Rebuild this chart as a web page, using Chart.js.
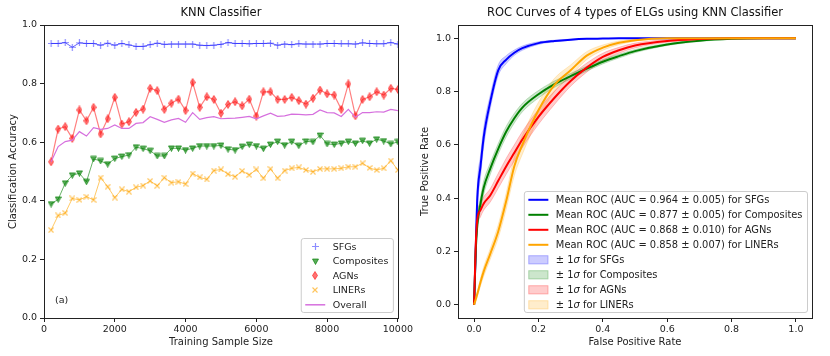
<!DOCTYPE html>
<html>
<head>
<meta charset="utf-8">
<script src="https://cdn.jsdelivr.net/npm/chart.js@4.4.0/dist/chart.umd.min.js"></script>
<style>
  html, body { margin: 0; padding: 0; background: #fff; }
  #wrap { position: relative; width: 830px; height: 356px; }
  .panel { position: absolute; top: 0; width: 415px; height: 356px; }
  #left { left: 0; }
  #right { left: 415px; }
</style>
</head>
<body>
<div id="wrap">
  <div class="panel" id="left"><canvas id="knnChart"></canvas></div>
  <div class="panel" id="right"><canvas id="rocChart"></canvas></div>
</div>
<script>
// ---- data: accuracy vs training sample size (left panel)
const sampleSizes = [200, 400, 600, 800, 1000, 1200, 1400, 1600, 1800, 2000,
  2200, 2400, 2600, 2800, 3000, 3200, 3400, 3600, 3800, 4000,
  4200, 4400, 4600, 4800, 5000, 5200, 5400, 5600, 5800, 6000,
  6200, 6400, 6600, 6800, 7000, 7200, 7400, 7600, 7800, 8000,
  8200, 8400, 8600, 8800, 9000, 9200, 9400, 9600, 9800, 10000];
const sfgAcc = [0.937, 0.937, 0.940, 0.924, 0.939, 0.937, 0.937, 0.931, 0.938, 0.931,
  0.937, 0.932, 0.927, 0.927, 0.933, 0.938, 0.934, 0.935, 0.935, 0.935,
  0.935, 0.931, 0.930, 0.931, 0.934, 0.940, 0.937, 0.937, 0.936, 0.937,
  0.937, 0.938, 0.931, 0.935, 0.933, 0.936, 0.935, 0.935, 0.935, 0.937,
  0.937, 0.936, 0.936, 0.935, 0.939, 0.937, 0.936, 0.936, 0.940, 0.935];
const compositeAcc = [0.389, 0.405, 0.460, 0.487, 0.494, 0.465, 0.543, 0.536, 0.525, 0.544,
  0.551, 0.556, 0.583, 0.578, 0.571, 0.553, 0.553, 0.579, 0.579, 0.573,
  0.579, 0.587, 0.587, 0.587, 0.589, 0.576, 0.573, 0.585, 0.592, 0.587,
  0.578, 0.592, 0.602, 0.590, 0.602, 0.588, 0.603, 0.601, 0.623, 0.594,
  0.592, 0.596, 0.602, 0.596, 0.605, 0.596, 0.610, 0.604, 0.594, 0.601];
const agnAcc = [0.533, 0.645, 0.653, 0.613, 0.710, 0.673, 0.719, 0.628, 0.680, 0.753,
  0.662, 0.670, 0.702, 0.713, 0.784, 0.776, 0.712, 0.733, 0.747, 0.708,
  0.804, 0.719, 0.755, 0.746, 0.699, 0.729, 0.738, 0.724, 0.747, 0.689,
  0.772, 0.772, 0.746, 0.746, 0.753, 0.742, 0.730, 0.750, 0.778, 0.765,
  0.761, 0.712, 0.799, 0.690, 0.746, 0.755, 0.772, 0.761, 0.784, 0.780];
const linerAcc = [0.300, 0.350, 0.358, 0.408, 0.403, 0.414, 0.403, 0.479, 0.448, 0.411,
  0.439, 0.431, 0.446, 0.452, 0.468, 0.451, 0.479, 0.462, 0.465, 0.457,
  0.493, 0.480, 0.473, 0.503, 0.507, 0.491, 0.482, 0.502, 0.488, 0.507,
  0.477, 0.509, 0.477, 0.503, 0.511, 0.514, 0.505, 0.499, 0.509, 0.509,
  0.509, 0.511, 0.516, 0.516, 0.528, 0.512, 0.505, 0.511, 0.537, 0.505];
const overallAcc = [0.533, 0.585, 0.602, 0.607, 0.636, 0.621, 0.650, 0.644, 0.647, 0.659,
  0.647, 0.647, 0.664, 0.667, 0.687, 0.678, 0.668, 0.676, 0.681, 0.668,
  0.701, 0.678, 0.684, 0.687, 0.680, 0.681, 0.682, 0.685, 0.688, 0.680,
  0.690, 0.699, 0.688, 0.690, 0.696, 0.695, 0.693, 0.695, 0.710, 0.701,
  0.700, 0.688, 0.712, 0.685, 0.701, 0.701, 0.704, 0.703, 0.712, 0.708];

// ---- data: mean ROC curves (right panel), tpr on a shared fpr grid
const rocFpr = [0, 0.005, 0.01, 0.02, 0.03, 0.05, 0.075, 0.1, 0.125, 0.15, 0.2,
  0.25, 0.3, 0.35, 0.4, 0.45, 0.5, 0.6, 0.7, 0.8, 0.9, 1.0];
const sfgTpr = [0, 0.20, 0.40, 0.52, 0.63, 0.76, 0.88, 0.92, 0.946, 0.963, 0.982,
  0.990, 0.995, 0.998, 0.999, 1, 1, 1, 1, 1, 1, 1];
const compositeTpr = [0, 0.20, 0.30, 0.38, 0.44, 0.51, 0.585, 0.65, 0.70, 0.74, 0.79,
  0.828, 0.858, 0.886, 0.912, 0.933, 0.952, 0.977, 0.991, 0.998, 1, 1];
const agnTpr = [0, 0.22, 0.32, 0.355, 0.38, 0.41, 0.465, 0.52, 0.57, 0.62, 0.705,
  0.777, 0.84, 0.89, 0.93, 0.955, 0.973, 0.99, 0.997, 1, 1, 1];
const linerTpr = [0, 0.02, 0.04, 0.085, 0.125, 0.19, 0.275, 0.39, 0.52, 0.60, 0.73,
  0.825, 0.88, 0.935, 0.965, 0.983, 0.993, 1, 1, 1, 1, 1];
// spread of the fold curves (1 sigma)
const sfgSigma = [0, 0.06, 0.05, 0.04, 0.035, 0.025, 0.02, 0.015, 0.01, 0.008, 0.005,
  0.003, 0.002, 0.001, 0, 0, 0, 0, 0, 0, 0, 0];
const compositeSigma = [0, 0.04, 0.03, 0.025, 0.025, 0.022, 0.02, 0.02, 0.018, 0.016, 0.014,
  0.012, 0.01, 0.009, 0.008, 0.007, 0.006, 0.004, 0.003, 0.001, 0, 0];
const agnSigma = [0, 0.04, 0.03, 0.025, 0.025, 0.025, 0.028, 0.03, 0.03, 0.03, 0.028,
  0.025, 0.02, 0.017, 0.014, 0.011, 0.009, 0.005, 0.002, 0, 0, 0];
const linerSigma = [0, 0.01, 0.01, 0.015, 0.018, 0.02, 0.025, 0.03, 0.035, 0.035, 0.03,
  0.025, 0.02, 0.015, 0.01, 0.007, 0.004, 0, 0, 0, 0, 0];

const rocLabels = [
  'Mean ROC (AUC = 0.964 \u00b1 0.005) for SFGs',
  'Mean ROC (AUC = 0.877 \u00b1 0.005) for Composites',
  'Mean ROC (AUC = 0.868 \u00b1 0.010) for AGNs',
  'Mean ROC (AUC = 0.858 \u00b1 0.007) for LINERs'
];
const classNames = ['SFGs', 'Composites', 'AGNs', 'LINERs'];
const accTicks = [0, 0.2, 0.4, 0.6, 0.8, 1.0];
const sizeTicks = [0, 2000, 4000, 6000, 8000, 10000];
const rateTicks = [0, 0.2, 0.4, 0.6, 0.8, 1.0];

Chart.defaults.font.family = '"DejaVu Sans", sans-serif';
Chart.defaults.color = '#222';

const FONT_FAMILY = '"DejaVu Sans", sans-serif';

// small canvases used as matplotlib-like markers
function makeMarker(w, h, draw) {
  const c = document.createElement('canvas');
  c.width = w;
  c.height = h;
  draw(c.getContext('2d'), w, h);
  return c;
}
const plusMarker = makeMarker(7, 7, (g, w, h) => {
  g.strokeStyle = 'rgba(0,0,255,0.45)';
  g.lineWidth = 1.2;
  g.beginPath();
  g.moveTo(w / 2, 0); g.lineTo(w / 2, h);
  g.moveTo(0, h / 2); g.lineTo(w, h / 2);
  g.stroke();
});
const triDownMarker = makeMarker(7, 7, (g) => {
  g.fillStyle = 'rgba(0,128,0,0.65)';
  g.strokeStyle = 'rgba(0,128,0,0.65)';
  g.beginPath();
  g.moveTo(0.5, 1); g.lineTo(6.5, 1); g.lineTo(3.5, 6.5); g.closePath();
  g.fill(); g.stroke();
});
const thinDiamondMarker = makeMarker(6, 9, (g) => {
  g.fillStyle = 'rgba(255,0,0,0.55)';
  g.strokeStyle = 'rgba(255,0,0,0.55)';
  g.beginPath();
  g.moveTo(3, 0.5); g.lineTo(5.5, 4.5); g.lineTo(3, 8.5); g.lineTo(0.5, 4.5); g.closePath();
  g.fill(); g.stroke();
});
const xMarker = makeMarker(6, 6, (g) => {
  g.strokeStyle = 'rgba(255,165,0,0.65)';
  g.lineWidth = 1.1;
  g.beginPath();
  g.moveTo(0.5, 0.5); g.lineTo(5.5, 5.5);
  g.moveTo(5.5, 0.5); g.lineTo(0.5, 5.5);
  g.stroke();
});

// draw the axes frame on all four sides
const framePlugin = {
  id: 'frame',
  afterDraw(chart) {
    const { ctx, chartArea: a } = chart;
    ctx.save();
    ctx.strokeStyle = '#222';
    ctx.lineWidth = 1;
    ctx.strokeRect(Math.round(a.left) + 0.5, Math.round(a.top) + 0.5,
      Math.round(a.right - a.left), Math.round(a.bottom - a.top));
    ctx.restore();
  }
};

// title centred over the plot area, like matplotlib's ax.set_title
const axesTitlePlugin = {
  id: 'axesTitle',
  afterDraw(chart, args, opts) {
    if (!opts.text) return;
    const { ctx, chartArea } = chart;
    ctx.save();
    ctx.font = opts.size + 'px ' + FONT_FAMILY;
    ctx.fillStyle = '#111';
    ctx.textAlign = 'center';
    ctx.textBaseline = 'middle';
    ctx.fillText(opts.text, (chartArea.left + chartArea.right) / 2, 13);
    ctx.restore();
  }
};

// legend drawn inside the lower right corner of the plot
function labelParts(label) {
  return Array.isArray(label) ? label : [[label, false]];
}
function setFont(ctx, italic, size) {
  ctx.font = (italic ? 'italic ' : '') + size + 'px ' + FONT_FAMILY;
}
const insetLegendPlugin = {
  id: 'insetLegend',
  afterDraw(chart, args, opts) {
    const items = opts.items;
    if (!items || !items.length) return;
    const { ctx, chartArea } = chart;
    const size = opts.fontSize;
    ctx.save();
    const widths = items.map(it => labelParts(it.label).reduce((s, [t, it2]) => {
      setFont(ctx, it2, size);
      return s + ctx.measureText(t).width;
    }, 0));
    const w = 31.5 + Math.max(...widths) + 5;
    const h = 16 + (items.length - 1) * opts.rowHeight;
    const x0 = chartArea.right - 4.5 - w;
    const y0 = chartArea.bottom - 5.5 - h;

    ctx.beginPath();
    ctx.roundRect(x0, y0, w, h, 2.5);
    ctx.fillStyle = 'rgba(255,255,255,0.85)';
    ctx.fill();
    ctx.strokeStyle = '#cccccc';
    ctx.lineWidth = 1;
    ctx.stroke();

    items.forEach((it, i) => {
      const cy = y0 + 8.3 + i * opts.rowHeight;
      const hx = x0 + 4;
      if (it.marker) {
        const m = it.marker;
        ctx.drawImage(m, Math.round(hx + 10 - m.width / 2), Math.round(cy - m.height / 2));
      } else if (it.line) {
        ctx.strokeStyle = it.line;
        ctx.lineWidth = it.lineWidth || 1.5;
        ctx.beginPath();
        ctx.moveTo(hx, cy);
        ctx.lineTo(hx + 20, cy);
        ctx.stroke();
      } else if (it.patch) {
        ctx.fillStyle = it.patch;
        ctx.fillRect(hx, cy - 4.5, 20, 9);
        ctx.strokeStyle = it.patchEdge;
        ctx.lineWidth = 1;
        ctx.strokeRect(hx + 0.5, cy - 4, 19, 8);
      }
      ctx.fillStyle = '#222';
      ctx.textBaseline = 'middle';
      let tx = x0 + 31.5;
      labelParts(it.label).forEach(([t, italic]) => {
        setFont(ctx, italic, size);
        ctx.fillText(t, tx, cy + 0.5);
        tx += ctx.measureText(t).width;
      });
    });
    ctx.restore();
  }
};

// panel tag such as "(a)"
const panelTagPlugin = {
  id: 'panelTag',
  afterDraw(chart, args, opts) {
    if (!opts.text) return;
    const { ctx, chartArea } = chart;
    ctx.save();
    ctx.font = '9.5px ' + FONT_FAMILY;
    ctx.fillStyle = '#222';
    ctx.textBaseline = 'middle';
    ctx.fillText(opts.text, chartArea.left + 11, chartArea.bottom - 17);
    ctx.restore();
  }
};

const axisBase = (width, height) => ({
  grid: { drawOnChartArea: false, drawTicks: true, tickLength: 4, color: '#222', lineWidth: 1 },
  border: { display: true, color: '#222', width: 1 },
  afterFit: (scale) => {
    if (width) scale.width = width;
    if (height) scale.height = height;
  }
});

const toPoints = (xs, ys) => xs.map((x, i) => ({ x, y: ys[i] }));

// ---- left panel: KNN accuracy
new Chart(document.getElementById('knnChart'), {
  type: 'line',
  data: {
    datasets: [
      { label: 'SFGs', data: toPoints(sampleSizes, sfgAcc), borderColor: 'rgba(0,0,255,0.6)',
        borderWidth: 1, pointStyle: plusMarker, order: 5 },
      { label: 'Composites', data: toPoints(sampleSizes, compositeAcc), borderColor: 'rgba(0,128,0,0.6)',
        borderWidth: 1, pointStyle: triDownMarker, order: 4 },
      { label: 'AGNs', data: toPoints(sampleSizes, agnAcc), borderColor: 'rgba(255,0,0,0.5)',
        borderWidth: 1.2, pointStyle: thinDiamondMarker, order: 3 },
      { label: 'LINERs', data: toPoints(sampleSizes, linerAcc), borderColor: 'rgba(255,165,0,0.6)',
        borderWidth: 1, pointStyle: xMarker, order: 2 },
      { label: 'Overall', data: toPoints(sampleSizes, overallAcc), borderColor: 'rgb(214,112,222)',
        borderWidth: 1.2, pointRadius: 0, order: 1 }
    ]
  },
  options: {
    responsive: true,
    maintainAspectRatio: false,
    animation: false,
    events: [],
    layout: { padding: { left: 0, right: 17, top: 25, bottom: 0 } },
    elements: { line: { tension: 0, fill: false }, point: { radius: 3 } },
    scales: {
      x: {
        type: 'linear', min: 0, max: 10000,
        ...axisBase(null, 38),
        afterBuildTicks: (scale) => { scale.ticks = sizeTicks.map(v => ({ value: v })); },
        ticks: { font: { size: 9.5 }, padding: 2, maxRotation: 0, callback: v => String(v) },
        title: { display: true, text: 'Training Sample Size', font: { size: 10 }, color: '#222',
          padding: { top: 0, bottom: 8 } }
      },
      y: {
        type: 'linear', min: 0, max: 1,
        ...axisBase(44, null),
        afterBuildTicks: (scale) => { scale.ticks = accTicks.map(v => ({ value: v })); },
        ticks: { font: { size: 9.5 }, padding: 3, callback: v => v.toFixed(1) },
        title: { display: true, text: 'Classification Accuracy', font: { size: 10 }, color: '#222',
          padding: { top: 7, bottom: 0 } }
      }
    },
    plugins: {
      legend: { display: false },
      tooltip: { enabled: false },
      title: { display: false },
      axesTitle: { text: 'KNN Classifier', size: 11.5 },
      insetLegend: {
        rowHeight: 14.5,
        fontSize: 9.5,
        items: [
          { label: 'SFGs', marker: plusMarker },
          { label: 'Composites', marker: triDownMarker },
          { label: 'AGNs', marker: thinDiamondMarker },
          { label: 'LINERs', marker: xMarker },
          { label: 'Overall', line: 'rgb(214,112,222)', lineWidth: 1.5 }
        ]
      },
      panelTag: { text: '(a)' }
    }
  },
  plugins: [framePlugin, axesTitlePlugin, insetLegendPlugin, panelTagPlugin]
});

// ---- right panel: ROC curves
const rocColors = ['0,0,255', '0,128,0', '255,0,0', '255,165,0'];
const rocMeans = [sfgTpr, compositeTpr, agnTpr, linerTpr];
const rocSigmas = [sfgSigma, compositeSigma, agnSigma, linerSigma];

const rocDatasets = [];
rocMeans.forEach((tpr, k) => {
  const lower = tpr.map((v, i) => Math.max(v - rocSigmas[k][i], 0));
  const upper = tpr.map((v, i) => Math.min(v + rocSigmas[k][i], 1));
  rocDatasets.push({
    data: toPoints(rocFpr, lower), borderColor: `rgba(${rocColors[k]},0.25)`, borderWidth: 0.8,
    pointRadius: 0, fill: false, order: 10
  });
  rocDatasets.push({
    data: toPoints(rocFpr, upper), borderColor: `rgba(${rocColors[k]},0.25)`, borderWidth: 0.8,
    pointRadius: 0, fill: '-1', backgroundColor: `rgba(${rocColors[k]},0.2)`, order: 10
  });
});
rocMeans.forEach((tpr, k) => {
  rocDatasets.push({
    label: rocLabels[k], data: toPoints(rocFpr, tpr), borderColor: `rgb(${rocColors[k]})`,
    borderWidth: 2, pointRadius: 0, fill: false, order: 4 - k
  });
});

new Chart(document.getElementById('rocChart'), {
  type: 'line',
  data: { datasets: rocDatasets },
  options: {
    responsive: true,
    maintainAspectRatio: false,
    animation: false,
    events: [],
    layout: { padding: { left: 0, right: 18, top: 25, bottom: 0 } },
    elements: { line: { cubicInterpolationMode: 'monotone' } },
    scales: {
      x: {
        type: 'linear', min: -0.05, max: 1.05,
        ...axisBase(null, 38),
        afterBuildTicks: (scale) => { scale.ticks = rateTicks.map(v => ({ value: v })); },
        ticks: { font: { size: 9.5 }, padding: 2, maxRotation: 0, callback: v => v.toFixed(1) },
        title: { display: true, text: 'False Positive Rate', font: { size: 10 }, color: '#222',
          padding: { top: 0, bottom: 8 } }
      },
      y: {
        type: 'linear', min: -0.05, max: 1.05,
        ...axisBase(43, null),
        afterBuildTicks: (scale) => { scale.ticks = rateTicks.map(v => ({ value: v })); },
        ticks: { font: { size: 9.5 }, padding: 3, callback: v => v.toFixed(1) },
        title: { display: true, text: 'True Positive Rate', font: { size: 10 }, color: '#222',
          padding: { top: 4, bottom: 0 } }
      }
    },
    plugins: {
      legend: { display: false },
      tooltip: { enabled: false },
      title: { display: false },
      axesTitle: { text: 'ROC Curves of 4 types of ELGs using KNN Classifier', size: 11.5 },
      insetLegend: {
        rowHeight: 15,
        fontSize: 9.9,
        items: [
          ...rocLabels.map((l, k) => ({ label: l, line: `rgb(${rocColors[k]})`, lineWidth: 2 })),
          ...classNames.map((c, k) => ({
            label: [['\u00b1 1', false], ['\u03c3', true], [' for ' + c, false]],
            patch: `rgba(${rocColors[k]},0.2)`, patchEdge: `rgba(${rocColors[k]},0.2)`
          }))
        ]
      }
    }
  },
  plugins: [framePlugin, axesTitlePlugin, insetLegendPlugin]
});
</script>
</body>
</html>
